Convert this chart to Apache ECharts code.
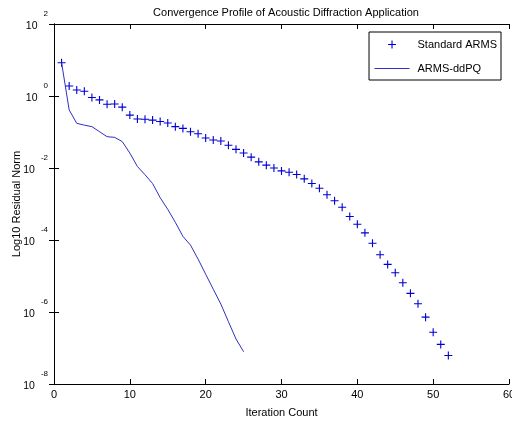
<!DOCTYPE html>
<html lang="en">
<head>
    <meta charset="utf-8">
    <title>convergence</title>
    <script src="https://cdn.jsdelivr.net/npm/echarts@6/dist/echarts.min.js"></script>
    <style>
        html, body { margin: 0; padding: 0; background: #fff; }
        #chart { width: 512px; height: 423px; }
    </style>
</head>
<body>
<div id="chart"></div>
<script>
    // iteration numbers
    var armsIter = [1,2,3,4,5,6,7,8,9,10,11,12,13,14,15,16,17,18,19,20,21,22,23,24,25,26,
        27,28,29,30,31,32,33,34,35,36,37,38,39,40,41,42,43,44,45,46,47,48,49,50,51,52];
    // Standard ARMS residual norm
    var armsNorm = [8.4,1.9,1.47,1.35,0.91,0.78,0.59,0.60,0.49,0.295,0.229,0.226,0.214,0.195,
        0.178,0.141,0.126,0.102,0.089,0.068,0.060,0.056,0.043,0.033,0.026,0.020,0.0148,0.012,
        0.010,0.0083,0.0076,0.0066,0.0050,0.0037,0.00275,0.0018,0.00123,8.1e-4,4.5e-4,2.75e-4,
        1.58e-4,8.1e-5,3.9e-5,2.1e-5,1.23e-5,6.5e-6,3.3e-6,1.7e-6,7.2e-7,2.75e-7,1.26e-7,6.2e-8];

    var ddpqIter = [1,2,3,4,5,6,7,8,9,10,11,12,13,14,15,16,17,18,19,20,21,22,23,24,25];
    // ARMS-ddPQ residual norm
    var ddpqNorm = [8.4,0.41,0.174,0.155,0.141,0.102,0.074,0.071,0.054,0.026,0.011,0.0065,
        0.0037,0.0015,7.1e-4,3.1e-4,1.26e-4,7.2e-5,2.95e-5,1.12e-5,4.3e-6,1.66e-6,5.4e-7,
        1.78e-7,7.9e-8];

    var xTicks = { min: 0, max: 60, interval: 10 };
    var yTicks = { min: 1e-8, max: 1e2 };

    var font = 'Liberation Sans, Arial, sans-serif';
    var plus = 'path://M0,3.45H8V4.55H0Z M3.45,0H4.55V8H3.45Z';

    function pairs(xs, ys) {
        return xs.map(function (x, i) { return [x, ys[i]]; });
    }

    function expLabel(v) {
        var e = Math.round(Math.log10(v));
        return '{b|10}{e|' + e + '}';
    }

    var chart = echarts.init(document.getElementById('chart'));
    chart.setOption({
        backgroundColor: '#fff',
        animation: false,
        textStyle: { fontFamily: font },
        title: {
            text: 'Convergence Profile of Acoustic Diffraction Application',
            left: 281, top: 2, textAlign: 'center',
            textStyle: { fontSize: 11, fontWeight: 'normal', color: '#000', fontFamily: font }
        },
        grid: { left: 54, right: 3, top: 24, bottom: 39, outerBoundsMode: 'none' },
        legend: {
            orient: 'vertical',
            right: 11, top: 32,
            borderColor: '#000', borderWidth: 1,
            padding: [7, 4, 6, 5],
            itemWidth: 35, itemHeight: 8, itemGap: 13,
            textStyle: { fontSize: 11, color: '#000', fontFamily: font, padding: [0, 0, 0, 3] },
            data: [
                { name: 'Standard ARMS' },
                { name: 'ARMS-ddPQ', itemStyle: { opacity: 0 }, lineStyle: { width: 1 } }
            ]
        },
        xAxis: [{
            type: 'value',
            min: xTicks.min, max: xTicks.max, interval: xTicks.interval,
            name: 'Iteration Count', nameLocation: 'middle', nameGap: 23,
            nameTextStyle: { fontSize: 11, color: '#000', fontFamily: font },
            axisLine: { lineStyle: { color: '#000' } },
            axisTick: { inside: true, length: 5, lineStyle: { color: '#000' } },
            axisLabel: { color: '#000', fontSize: 11, margin: 5, fontFamily: font },
            splitLine: { show: false }
        }, {
            type: 'value', position: 'top',
            min: xTicks.min, max: xTicks.max, interval: xTicks.interval,
            axisLine: { lineStyle: { color: '#000' } },
            axisTick: { inside: true, length: 5, lineStyle: { color: '#000' } },
            axisLabel: { show: false },
            splitLine: { show: false }
        }],
        yAxis: [{
            type: 'log', logBase: 10,
            min: yTicks.min, max: yTicks.max, interval: 2,
            name: 'Log10 Residual Norm', nameLocation: 'middle', nameGap: 32,
            nameMoveOverlap: false,
            nameTextStyle: { fontSize: 11, color: '#000', fontFamily: font },
            axisLine: { show: true, lineStyle: { color: '#000' } },
            axisTick: { show: true, inside: true, length: 5, lineStyle: { color: '#000' } },
            axisLabel: {
                margin: 6, formatter: expLabel,
                rich: {
                    b: { fontSize: 10.5, color: '#000', fontFamily: font, padding: [4, 0, 0, 0] },
                    e: { fontSize: 8, color: '#000', fontFamily: font, padding: [0, 0, 20, 6] }
                }
            },
            splitLine: { show: false }
        }, {
            type: 'log', logBase: 10, position: 'right',
            min: yTicks.min, max: yTicks.max, interval: 2,
            axisLine: { show: true, lineStyle: { color: '#000' } },
            axisTick: { show: true, inside: true, length: 5, lineStyle: { color: '#000' } },
            axisLabel: { show: false },
            splitLine: { show: false }
        }],
        series: [{
            name: 'Standard ARMS',
            type: 'scatter',
            symbol: plus, symbolSize: 8, symbolKeepAspect: true,
            itemStyle: { color: '#0000d4', opacity: 1 },
            data: pairs(armsIter, armsNorm)
        }, {
            name: 'ARMS-ddPQ',
            type: 'line',
            symbol: 'none',
            lineStyle: { color: '#2f2fc4', width: 1 },
            itemStyle: { color: '#2f2fc4' },
            data: pairs(ddpqIter, ddpqNorm)
        }]
    });
</script>
</body>
</html>
